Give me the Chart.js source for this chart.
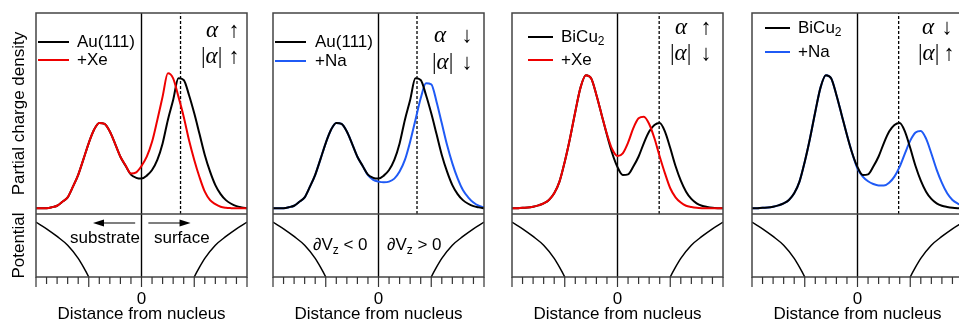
<!DOCTYPE html>
<html>
<head>
<meta charset="utf-8">
<script src="https://cdn.jsdelivr.net/npm/chart.js@4.4.1/dist/chart.umd.min.js"></script>
<style>
  html, body { margin: 0; padding: 0; background: #fff; overflow: hidden; }
  #fig { position: relative; width: 959px; height: 320px; overflow: hidden; }
  #fig canvas { position: absolute; top: 0; }
</style>
</head>
<body>
<div id="fig">
  <canvas id="p1" width="259" height="330" style="left:0px"></canvas>
  <canvas id="p2" width="259" height="330" style="left:237px"></canvas>
  <canvas id="p3" width="259" height="330" style="left:476px"></canvas>
  <canvas id="p4" width="259" height="330" style="left:716px"></canvas>
</div>
<script>
// distance from nucleus (arb. units), shared by all density curves
const distance = [-2.0, -1.9, -1.8, -1.7, -1.6, -1.5, -1.4, -1.3, -1.2, -1.1,
                  -1.0, -0.9, -0.8, -0.7, -0.6, -0.5, -0.4, -0.3, -0.2, -0.1,
                   0.0,  0.1,  0.2,  0.3,  0.4,  0.5,  0.6,  0.7,  0.8,  0.9,
                   1.0,  1.1,  1.2,  1.3,  1.4,  1.5,  1.6,  1.7,  1.8,  1.9, 2.0];

// partial charge density (0 = bottom of upper frame, 100 = top)
const au111 = [2.8, 2.8, 2.9, 3.4, 4.1, 6.1, 8.3, 13.6, 19.5, 27.3,
               35.3, 41.9, 45.3, 44.8, 41.0, 34.9, 28.5, 23.9, 19.6, 18.0,
               17.6, 19.1, 21.9, 26.9, 35.1, 46.8, 56.7, 67.5, 66.7, 59.2,
               50.1, 39.8, 29.4, 21.1, 14.4, 9.9, 6.9, 5.1, 3.9, 3.3, 2.9];
const au111Xe = [2.8, 2.8, 2.9, 3.4, 4.1, 6.1, 8.3, 13.6, 19.5, 27.3,
                 35.3, 41.9, 45.3, 44.8, 41.0, 34.9, 28.5, 24.1, 20.1, 20.7,
                 23.9, 28.5, 35.9, 46.8, 58.4, 70.0, 67.5, 58.4, 48.4, 36.8,
                 26.9, 18.3, 11.1, 6.9, 4.9, 3.6, 3.1, 2.9, 2.8, 2.8, 2.8];
const au111Na = [2.8, 2.8, 2.9, 3.4, 4.1, 6.1, 8.3, 13.6, 19.5, 27.3,
                 35.3, 41.9, 45.3, 44.8, 41.0, 34.9, 28.5, 23.9, 19.3, 17.0,
                 16.1, 15.8, 16.1, 17.6, 21.1, 26.9, 36.0, 46.8, 57.6, 65.0,
                 64.5, 55.9, 45.1, 34.3, 25.2, 17.7, 11.9, 8.3, 5.7, 4.1, 3.3];
const bicu2 = [2.8, 2.9, 3.1, 3.2, 3.6, 4.3, 5.3, 7.0, 10.3, 16.1,
               26.0, 37.7, 50.9, 63.0, 69.0, 67.5, 59.2, 49.3, 39.3, 30.2,
               23.3, 19.4, 19.7, 23.6, 28.6, 35.3, 41.0, 44.3, 45.3, 41.0,
               32.8, 23.9, 16.6, 11.1, 7.5, 5.3, 4.1, 3.5, 3.1, 2.9, 2.8];
const bicu2Xe = [2.8, 2.9, 3.1, 3.2, 3.6, 4.3, 5.3, 7.0, 10.3, 16.1,
                 26.0, 37.7, 50.9, 63.0, 69.0, 67.5, 59.2, 49.3, 39.8, 32.2,
                 28.9, 30.2, 35.5, 42.7, 47.6, 48.4, 44.8, 37.7, 28.6, 20.2,
                 12.8, 8.3, 5.7, 4.1, 3.5, 3.1, 2.9, 2.8, 2.8, 2.8, 2.8];
const bicu2Na = [2.8, 2.9, 3.1, 3.2, 3.6, 4.3, 5.3, 7.0, 10.3, 16.1,
                 26.0, 37.7, 50.9, 63.0, 69.0, 67.5, 59.2, 49.3, 39.3, 30.2,
                 22.6, 18.6, 16.3, 14.9, 14.2, 14.2, 15.6, 18.6, 23.6, 30.2,
                 36.5, 40.5, 41.3, 37.5, 30.1, 22.1, 15.5, 10.3, 7.0, 5.2, 4.1];

// potential (lower frames)
const potentialLeftX = [-2.0, -1.8, -1.6, -1.4, -1.2, -1.1, -1.0, -0.9];
const potentialLeft = [-0.50, -0.56, -0.63, -0.71, -0.83, -0.91, -1.00, -1.11];
const potentialRightX = [0.9, 1.0, 1.1, 1.2, 1.4, 1.6, 1.8, 2.0];
const potentialRight = [-1.11, -1.00, -0.91, -0.83, -0.71, -0.63, -0.56, -0.50];

// dashed line = peak of the clean-surface state
const peakPositions = [0.74, 0.73, 0.79, 0.78];
const xTickLabels = { 0: '0' };

const SANS = "'Liberation Sans', Arial, sans-serif";
const SERIF = "'Liberation Serif', 'Times New Roman', serif";
const BLACK = '#000000';
const RED = '#ee0000';
const BLUE = '#1f5af5';
const FRAME = '#444444';

function pairs(xs, ys) {
    return xs.map((x, i) => ({ x: x, y: ys[i] }));
}

function curve(label, values, color) {
    return {
        label: label,
        data: pairs(distance, values),
        borderColor: color,
        borderWidth: 2,
        pointRadius: 0,
        cubicInterpolationMode: 'monotone',
        yAxisID: 'y'
    };
}

function plainLine(xs, ys, axis, width, dash, smooth) {
    return {
        data: pairs(xs, ys),
        borderColor: BLACK,
        borderWidth: width,
        borderDash: dash || [],
        pointRadius: 0,
        tension: 0,
        cubicInterpolationMode: smooth ? 'monotone' : 'default',
        yAxisID: axis
    };
}

function seg(ctx, x0, y0, x1, y1) {
    ctx.beginPath();
    ctx.moveTo(x0, y0);
    ctx.lineTo(x1, y1);
    ctx.stroke();
}

// "_c" draws c as a subscript
function drawRich(ctx, text, x, y, size, family) {
    let cx = x;
    text.split(/(_.)/).forEach(p => {
        if (!p) return;
        if (p[0] === '_') {
            ctx.font = Math.round(size * 0.7) + 'px ' + family;
            ctx.fillText(p[1], cx, y + size * 0.25);
            cx += ctx.measureText(p[1]).width;
        } else {
            ctx.font = size + 'px ' + family;
            ctx.fillText(p, cx, y);
            cx += ctx.measureText(p).width;
        }
    });
}

function drawAlpha(ctx, text, x, y) {
    let cx = x;
    text.split('').forEach(ch => {
        ctx.font = (ch === 'α' ? 'italic ' : '') + '23px ' + SERIF;
        ctx.fillText(ch, cx, y);
        cx += ctx.measureText(ch).width;
    });
}

function arrowHead(ctx, xFrom, xTo, y) {
    const dir = xTo > xFrom ? 1 : -1;
    ctx.lineWidth = 1.2;
    seg(ctx, xFrom, y, xTo - dir * 6, y);
    ctx.beginPath();
    ctx.moveTo(xTo, y);
    ctx.lineTo(xTo - dir * 11, y - 3.5);
    ctx.lineTo(xTo - dir * 11, y + 3.5);
    ctx.closePath();
    ctx.fill();
}

function makeDecor(spec) {
    return {
        id: 'panelDecor',
        afterDraw(chart) {
            const ctx = chart.ctx;
            const a = chart.chartArea;
            const xs = chart.scales.x;
            const yDiv = chart.scales.y.bottom;
            ctx.save();

            // frame, divider, tick marks
            ctx.strokeStyle = FRAME;
            ctx.lineWidth = 1.5;
            ctx.strokeRect(a.left, a.top, a.right - a.left, a.bottom - a.top);
            seg(ctx, a.left, yDiv, a.right, yDiv);
            ctx.lineWidth = 1.2;
            ctx.strokeStyle = '#333';
            xs.ticks.forEach(t => {
                const px = xs.getPixelForValue(t.value);
                const major = Math.abs(t.value - Math.round(t.value)) < 1e-6;
                seg(ctx, px, a.bottom, px, a.bottom + (major ? 10 : 7));
            });

            // legend
            ctx.fillStyle = BLACK;
            ctx.textBaseline = 'middle';
            spec.legend.forEach(row => {
                ctx.strokeStyle = row.color;
                ctx.lineWidth = 2;
                seg(ctx, a.left + spec.legendX[0], row.y, a.left + spec.legendX[1], row.y);
                drawRich(ctx, row.label, a.left + spec.legendX[2], row.y, 17, SANS);
            });

            // alpha annotations
            ctx.textBaseline = 'alphabetic';
            spec.alpha.forEach(r => {
                drawAlpha(ctx, r.text, a.left + r.x, r.y);
                ctx.font = '22px ' + SERIF;
                ctx.textAlign = 'center';
                ctx.fillText(r.arrow, a.left + r.ax, r.y);
                ctx.textAlign = 'left';
            });

            // lower frame notes
            (spec.notes || []).forEach(n => {
                drawRich(ctx, n.text, a.left + n.x, n.y, 17, SANS);
            });
            ctx.strokeStyle = BLACK;
            (spec.arrows || []).forEach(ar => {
                arrowHead(ctx, xs.getPixelForValue(ar[0]), xs.getPixelForValue(ar[1]), yDiv + 9);
            });
            ctx.restore();
        }
    };
}

function buildPanel(spec, index) {
    const peak = peakPositions[index];
    const datasets = spec.curves.map(c => curve(c[0], c[1], c[2]));
    datasets.push(plainLine([0, 0], [0, 100], 'y', 1.4));
    datasets.push(plainLine([0, 0], [-1, -0.425], 'y2', 1.4));
    datasets.push(plainLine([peak, peak], [0, 100], 'y', 1.3, [3, 2]));
    datasets.push(plainLine(potentialLeftX, potentialLeft, 'y2', 1.5, null, true));
    datasets.push(plainLine(potentialRightX, potentialRight, 'y2', 1.5, null, true));

    const axisTitle = (text, show) => ({
        display: show,
        text: text,
        color: BLACK,
        font: { family: SANS, size: 17 },
        padding: { top: 9, bottom: 0 }
    });

    new Chart(document.getElementById(spec.canvas), {
        type: 'line',
        data: { datasets: datasets },
        options: {
            responsive: false,
            animation: false,
            devicePixelRatio: 1,
            events: [],
            layout: { autoPadding: false, padding: { top: 13, right: 4, left: 0, bottom: 0 } },
            plugins: { legend: { display: false }, tooltip: { enabled: false } },
            scales: {
                x: {
                    type: 'linear',
                    min: -2,
                    max: 2,
                    grid: { display: false, drawTicks: false },
                    border: { display: false },
                    ticks: {
                        stepSize: 0.2,
                        maxTicksLimit: 25,
                        autoSkip: false,
                        maxRotation: 0,
                        minRotation: 0,
                        padding: 12,
                        color: BLACK,
                        font: { family: SANS, size: 17 },
                        callback: v => xTickLabels[Math.round(v * 10) / 10] || ''
                    },
                    title: {
                        display: true,
                        text: 'Distance from nucleus',
                        color: BLACK,
                        font: { family: SANS, size: 17 },
                        padding: { top: 0, bottom: 5 }
                    },
                    afterFit: s => { s.height = 53; }
                },
                y: {
                    type: 'linear',
                    min: 0,
                    max: 100,
                    stack: 'v',
                    stackWeight: 201,
                    weight: 1,
                    ticks: { display: false },
                    grid: { display: false },
                    border: { display: false },
                    title: axisTitle('Partial charge density', index === 0),
                    afterFit: s => { s.width = 36; }
                },
                y2: {
                    type: 'linear',
                    min: -1,
                    max: -0.425,
                    stack: 'v',
                    stackWeight: 63,
                    weight: 0,
                    ticks: { display: false },
                    grid: { display: false },
                    border: { display: false },
                    title: axisTitle('Potential', index === 0),
                    afterFit: s => { s.width = 36; }
                }
            }
        },
        plugins: [makeDecor(spec)]
    });
}

const panels = [
    {
        canvas: 'p1',
        curves: [['+Xe', au111Xe, RED], ['Au(111)', au111, BLACK]],
        legendX: [2, 33, 41],
        legend: [{ label: 'Au(111)', color: BLACK, y: 42 }, { label: '+Xe', color: RED, y: 60 }],
        alpha: [{ text: 'α', arrow: '↑', x: 170, ax: 198, y: 37 }, { text: '|α|', arrow: '↑', x: 165, ax: 198, y: 63 }],
        notes: [{ text: 'substrate', x: 34, y: 243 }, { text: 'surface', x: 118, y: 243 }],
        arrows: [[-0.12, -0.92], [0.13, 0.93]]
    },
    {
        canvas: 'p2',
        curves: [['Au(111)', au111, BLACK], ['+Na', au111Na, BLUE]],
        legendX: [2, 33, 42],
        legend: [{ label: 'Au(111)', color: BLACK, y: 42 }, { label: '+Na', color: BLUE, y: 61 }],
        alpha: [{ text: 'α', arrow: '↓', x: 161, ax: 194, y: 42 }, { text: '|α|', arrow: '↓', x: 159, ax: 194, y: 69 }],
        notes: [{ text: '∂V_z < 0', x: 40, y: 249.5 }, { text: '∂V_z > 0', x: 114, y: 249.5 }]
    },
    {
        canvas: 'p3',
        curves: [['+Xe', bicu2Xe, RED], ['BiCu_2', bicu2, BLACK]],
        legendX: [16, 41, 49],
        legend: [{ label: 'BiCu_2', color: BLACK, y: 37 }, { label: '+Xe', color: RED, y: 60 }],
        alpha: [{ text: 'α', arrow: '↑', x: 163, ax: 194, y: 34 }, { text: '|α|', arrow: '↓', x: 158, ax: 194, y: 60 }]
    },
    {
        canvas: 'p4',
        curves: [['BiCu_2', bicu2, BLACK], ['+Na', bicu2Na, BLUE]],
        legendX: [13, 38, 46],
        legend: [{ label: 'BiCu_2', color: BLACK, y: 28 }, { label: '+Na', color: BLUE, y: 52 }],
        alpha: [{ text: 'α', arrow: '↓', x: 170, ax: 195, y: 34 }, { text: '|α|', arrow: '↑', x: 166, ax: 197, y: 60 }]
    }
];

panels.forEach(buildPanel);
</script>
</body>
</html>
